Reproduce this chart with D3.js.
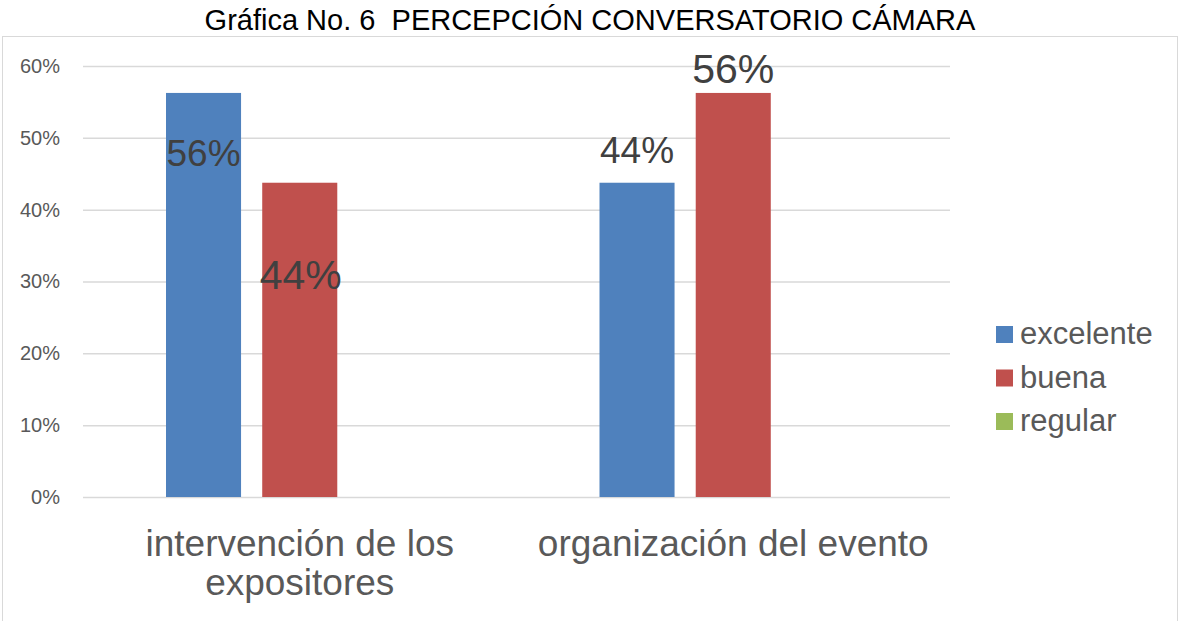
<!DOCTYPE html>
<html><head><meta charset="utf-8">
<script src="https://cdn.jsdelivr.net/npm/d3@7"></script>
<style>body{margin:0;background:#fff}svg{display:block;font-family:"Liberation Sans",Arial,sans-serif}</style>
</head><body>
<svg id="c" width="1180" height="621"></svg>
<script>
const title = "Gráfica No. 6  PERCEPCIÓN CONVERSATORIO CÁMARA";
const categories = [["intervención de los", "expositores"], ["organización del evento"]];
const seriesNames = ["excelente", "buena", "regular"];
const excelente = [56.25, 43.75];
const buena = [43.75, 56.25];
const regular = [0, 0];
const dataLabels = [["56%", "44%"], ["44%", "56%"]]; // per category: excelente, buena
const yTicks = [0, 10, 20, 30, 40, 50, 60];
const colors = ["#4f81bd", "#c0504d", "#9bbb59"];

const svg = d3.select("#c");
svg.append("rect").attr("x", 2.5).attr("y", 36.5).attr("width", 1175).attr("height", 590)
  .attr("fill", "#fff").attr("stroke", "#d9d9d9").attr("stroke-width", 1);

svg.append("text").attr("x", 590).attr("y", 30).attr("text-anchor", "middle")
  .attr("font-size", 29).attr("fill", "#000").style("white-space", "pre").text(title);

const plot = {l: 83, r: 950, t: 66, b: 497};
const y = d3.scaleLinear().domain([0, 60]).range([plot.b, plot.t]);
const x0 = d3.scaleBand().domain(d3.range(categories.length)).range([plot.l, plot.r]).paddingInner(0).paddingOuter(0);
const x1 = d3.scaleBand().domain(d3.range(seriesNames.length)).range([83, x0.bandwidth() - 83]).paddingInner(0.22).paddingOuter(0);

const yAxis = d3.axisLeft(y).tickValues(yTicks).tickSize(-(plot.r - plot.l)).tickFormat(d => d + "%");
const ga = svg.append("g").attr("transform", `translate(${plot.l},0)`).call(yAxis);
ga.select(".domain").remove();
ga.selectAll(".tick line").attr("stroke", "#d9d9d9").attr("stroke-width", 1.5);
ga.selectAll(".tick text").attr("x", -23).attr("font-size", 20).attr("fill", "#595959")
  .attr("font-family", "Liberation Sans, Arial, sans-serif");

const series = [excelente, buena, regular];
const groups = svg.append("g").selectAll("g").data(categories).join("g")
  .attr("transform", (d, i) => `translate(${x0(i)},0)`);
groups.selectAll("rect").data((d, i) => series.map((s, j) => ({v: s[i], j})))
  .join("rect")
  .attr("x", d => x1(d.j)).attr("width", x1.bandwidth())
  .attr("y", d => y(d.v)).attr("height", d => y(0) - y(d.v))
  .attr("fill", d => colors[d.j]);

// data labels (placement offsets relative to bar top, as in the original)
const labelDy = [[73, 106], [-20, -10]];
const labelSize = [[37, 41], [37, 41]];
groups.each(function(c, i) {
  d3.select(this).selectAll("text.dl").data(dataLabels[i]).join("text").attr("class", "dl")
    .attr("x", (d, j) => x1(j) + x1.bandwidth() / 2 + (j === 1 && i === 0 ? 1 : 0))
    .attr("y", (d, j) => y(series[j][i]) + labelDy[i][j])
    .attr("text-anchor", "middle").attr("font-size", (d, j) => labelSize[i][j])
    .attr("fill", "#404040").text(d => d);
});

// category labels
groups.each(function(c, i) {
  const t = d3.select(this).append("text").attr("text-anchor", "middle")
    .attr("font-size", 37).attr("fill", "#595959");
  c.forEach((line, k) => t.append("tspan").attr("x", x0.bandwidth() / 2).attr("y", 556 + k * 39).text(line));
});

// legend
const lg = svg.append("g").attr("transform", "translate(996,326)");
seriesNames.forEach((n, i) => {
  const g = lg.append("g").attr("transform", `translate(0,${i * 43.5})`);
  g.append("rect").attr("width", 17).attr("height", 17).attr("fill", colors[i]);
  g.append("text").attr("x", 24).attr("y", 18).attr("font-size", 31).attr("fill", "#595959").text(n);
});
</script>
</body></html>
